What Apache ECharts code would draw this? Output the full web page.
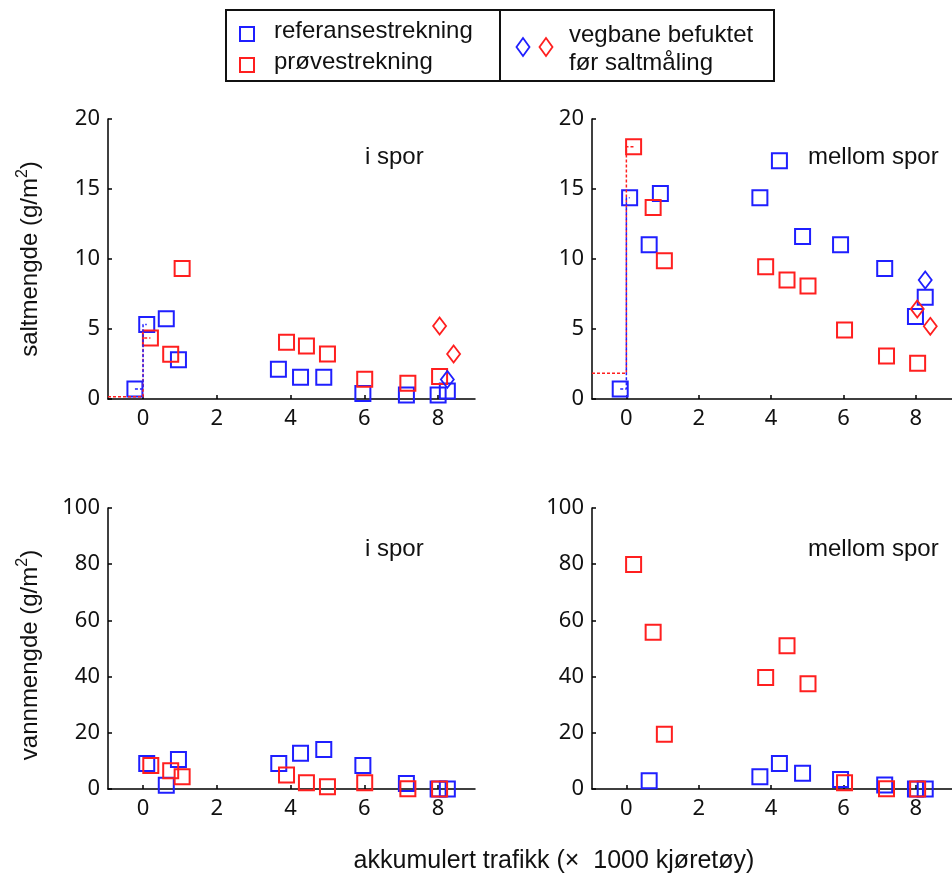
<!DOCTYPE html>
<html lang="no">
<head>
<meta charset="UTF-8">
<title>saltmengde og vannmengde</title>
<script src="https://cdn.jsdelivr.net/npm/echarts@6/dist/echarts.min.js"></script>
</head>
<style>
html,body{margin:0;padding:0;background:#fff}
#chartBox{width:952px;height:880px}
</style>
<body>
<div id="chartBox"></div>
<script>
// akser
const xMin = -0.95, xMax = 9;
const xTicks = [0, 2, 4, 6, 8];
const saltMax = 20, saltStep = 5;
const waterMax = 100, waterStep = 20;

// saltmengde, i spor
const saltInRef = [[-0.22,0.71],[0.10,5.33],[0.63,5.74],[0.96,2.81],[3.67,2.12],[4.27,1.55],[4.90,1.55],[5.96,0.40],[7.14,0.29],[8.00,0.29],[8.25,0.57]];
const saltInTest = [[0.20,4.36],[0.75,3.19],[1.06,9.33],[3.89,4.05],[4.43,3.79],[5.00,3.21],[6.01,1.41],[7.18,1.12],[8.04,1.60]];
const saltInRefWet = [[8.25,1.40]];
const saltInTestWet = [[8.04,5.21],[8.42,3.21]];
const saltInRefStep = [[-0.22,0.71],[0,0.71],[0,5.33],[0.10,5.33]];
const saltInTestStep = [[xMin,0.16],[0,0.16],[0,4.36],[0.20,4.36]];

// saltmengde, mellom spor
const saltMidRef = [[-0.17,0.71],[0.09,14.38],[0.63,11.02],[0.94,14.67],[3.69,14.38],[4.23,17.02],[4.87,11.60],[5.92,11.02],[7.14,9.33],[7.99,5.90],[8.26,7.26]];
const saltMidTest = [[0.20,18.02],[0.74,13.67],[1.05,9.88],[3.85,9.45],[4.44,8.50],[5.02,8.07],[6.03,4.93],[7.19,3.07],[8.05,2.55]];
const saltMidRefWet = [[8.26,8.50]];
const saltMidTestWet = [[8.04,6.43],[8.40,5.19]];
const saltMidRefStep = [[-0.17,0.71],[0,0.71],[0,14.38],[0.09,14.38]];
const saltMidTestStep = [[xMin,1.84],[0,1.84],[0,18.02],[0.20,18.02]];

// vannmengde, i spor
const waterInRef = [[0.10,9.1],[0.63,1.3],[0.96,10.5],[3.68,9.1],[4.27,12.7],[4.90,14.1],[5.96,8.4],[7.14,2.0],[8.00,0],[8.25,0]];
const waterInTest = [[0.21,8.4],[0.75,6.5],[1.06,4.4],[3.89,5.0],[4.43,2.2],[5.00,0.8],[6.01,2.2],[7.18,0.1],[8.04,0]];

// vannmengde, mellom spor
const waterMidRef = [[0.63,2.9],[3.69,4.4],[4.23,9.1],[4.87,5.6],[5.92,3.4],[7.14,1.4],[7.99,0],[8.26,0]];
const waterMidTest = [[0.20,79.9],[0.74,55.8],[1.05,19.5],[3.85,39.7],[4.44,51.0],[5.02,37.5],[6.03,2.2],[7.19,0.1],[8.05,0]];

const legendLeft = ['referansestrekning', 'prøvestrekning'];
const legendRight = ['vegbane befuktet', 'før saltmåling'];
const panelNames = ['i spor', 'mellom spor'];
const yTitles = ['saltmengde (g/m', 'vannmengde (g/m'];
const xTitle = 'akkumulert trafikk (×  1000 kjøretøy)';

const BLUE = '#1f1fff', RED = '#ff1f1f';
const TXT = 'Liberation Sans, Arial, sans-serif';

const grids = [
    {left:108, top:119, width:367, height:280},
    {left:592, top:119, width:369, height:280},
    {left:108, top:508, width:367, height:281},
    {left:592, top:508, width:369, height:281}
];

function xAxisOf(i){
    return {
        type:'value', gridIndex:i, min:xMin, max:xMax,
        splitLine:{show:false},
        axisLine:{lineStyle:{color:'#000', width:1.5}},
        axisTick:{inside:true, length:4, customValues:xTicks, lineStyle:{color:'#000', width:1.5}},
        axisLabel:{customValues:xTicks, margin:9, color:'#111', fontSize:22, fontFamily:'Noto Sans'}
    };
}
function yAxisOf(i, max, step){
    return {
        type:'value', gridIndex:i, min:0, max:max, interval:step,
        splitLine:{show:false},
        axisLine:{show:true, onZero:false, lineStyle:{color:'#000', width:1.5}},
        axisTick:{show:true, inside:true, length:4, lineStyle:{color:'#000', width:1.5}},
        axisLabel:{margin:8, color:'#111', fontSize:22, fontFamily:'Noto Sans'}
    };
}
function squares(i, data, color){
    return {type:'scatter', xAxisIndex:i, yAxisIndex:i, data:data, symbol:'rect', symbolSize:15,
        itemStyle:{color:'rgba(0,0,0,0)', borderColor:color, borderWidth:2, opacity:1}, silent:true};
}
function diamonds(i, data, color){
    return {type:'scatter', xAxisIndex:i, yAxisIndex:i, data:data, symbol:'diamond', symbolSize:[13,17],
        itemStyle:{color:'rgba(0,0,0,0)', borderColor:color, borderWidth:1.8, opacity:1}, silent:true, z:3};
}
function steps(i, data, color){
    return {type:'line', xAxisIndex:i, yAxisIndex:i, data:data, symbol:'none', silent:true,
        lineStyle:{color:color, width:1.5, type:[3,2]}};
}

function text(x, y, str, extra){
    return Object.assign({type:'text', x:x, y:y, silent:true,
        style:{text:str, fill:'#111', font:'24px ' + TXT, textAlign:'left', textVerticalAlign:'middle'}}, extra || {});
}
function yTitle(y, str){
    return {type:'text', x:30, y:y, rotation:Math.PI/2, silent:true,
        style:{text:'{a|' + str + '}{s|2}{a|)}', textAlign:'center', textVerticalAlign:'middle',
            rich:{a:{fontSize:24, fontFamily:TXT, fill:'#111', lineHeight:30},
                  s:{fontSize:16, fontFamily:TXT, fill:'#111', verticalAlign:'top', lineHeight:30}}}};
}

const graphics = [
    {type:'rect', shape:{x:226, y:10, width:548, height:71}, style:{fill:'none', stroke:'#111', lineWidth:2}},
    {type:'line', shape:{x1:500, y1:10, x2:500, y2:81}, style:{stroke:'#111', lineWidth:2}},
    {type:'rect', shape:{x:240, y:27, width:14, height:14}, style:{fill:'none', stroke:BLUE, lineWidth:2}},
    {type:'rect', shape:{x:240, y:58, width:14, height:14}, style:{fill:'none', stroke:RED, lineWidth:2}},
    {type:'polygon', shape:{points:[[523,38],[529.5,47],[523,56],[516.5,47]]}, style:{fill:'none', stroke:BLUE, lineWidth:1.8}},
    {type:'polygon', shape:{points:[[546,38],[552.5,47],[546,56],[539.5,47]]}, style:{fill:'none', stroke:RED, lineWidth:1.8}},
    text(274, 31, legendLeft[0]),
    text(274, 62, legendLeft[1]),
    text(569, 35, legendRight[0]),
    text(569, 63, legendRight[1]),
    text(365, 157, panelNames[0]),
    text(808, 157, panelNames[1]),
    text(365, 549, panelNames[0]),
    text(808, 549, panelNames[1]),
    yTitle(259, yTitles[0]),
    yTitle(655, yTitles[1]),
    text(554, 861, xTitle, {style:{text:xTitle, fill:'#111', font:'25px ' + TXT, textAlign:'center', textVerticalAlign:'middle'}})
];

const option = {
    animation:false,
    backgroundColor:'#fff',
    grid:grids,
    xAxis:[xAxisOf(0), xAxisOf(1), xAxisOf(2), xAxisOf(3)],
    yAxis:[yAxisOf(0, saltMax, saltStep), yAxisOf(1, saltMax, saltStep), yAxisOf(2, waterMax, waterStep), yAxisOf(3, waterMax, waterStep)],
    graphic:graphics,
    series:[
        steps(0, saltInTestStep, RED), steps(0, saltInRefStep, BLUE),
        squares(0, saltInRef, BLUE), squares(0, saltInTest, RED),
        diamonds(0, saltInRefWet, BLUE), diamonds(0, saltInTestWet, RED),
        steps(1, saltMidTestStep, RED), steps(1, saltMidRefStep, BLUE),
        squares(1, saltMidRef, BLUE), squares(1, saltMidTest, RED),
        diamonds(1, saltMidRefWet, BLUE), diamonds(1, saltMidTestWet, RED),
        squares(2, waterInRef, BLUE), squares(2, waterInTest, RED),
        squares(3, waterMidRef, BLUE), squares(3, waterMidTest, RED)
    ]
};

const chartObj = echarts.init(document.getElementById('chartBox'));
chartObj.setOption(option);
</script>
</body>
</html>
